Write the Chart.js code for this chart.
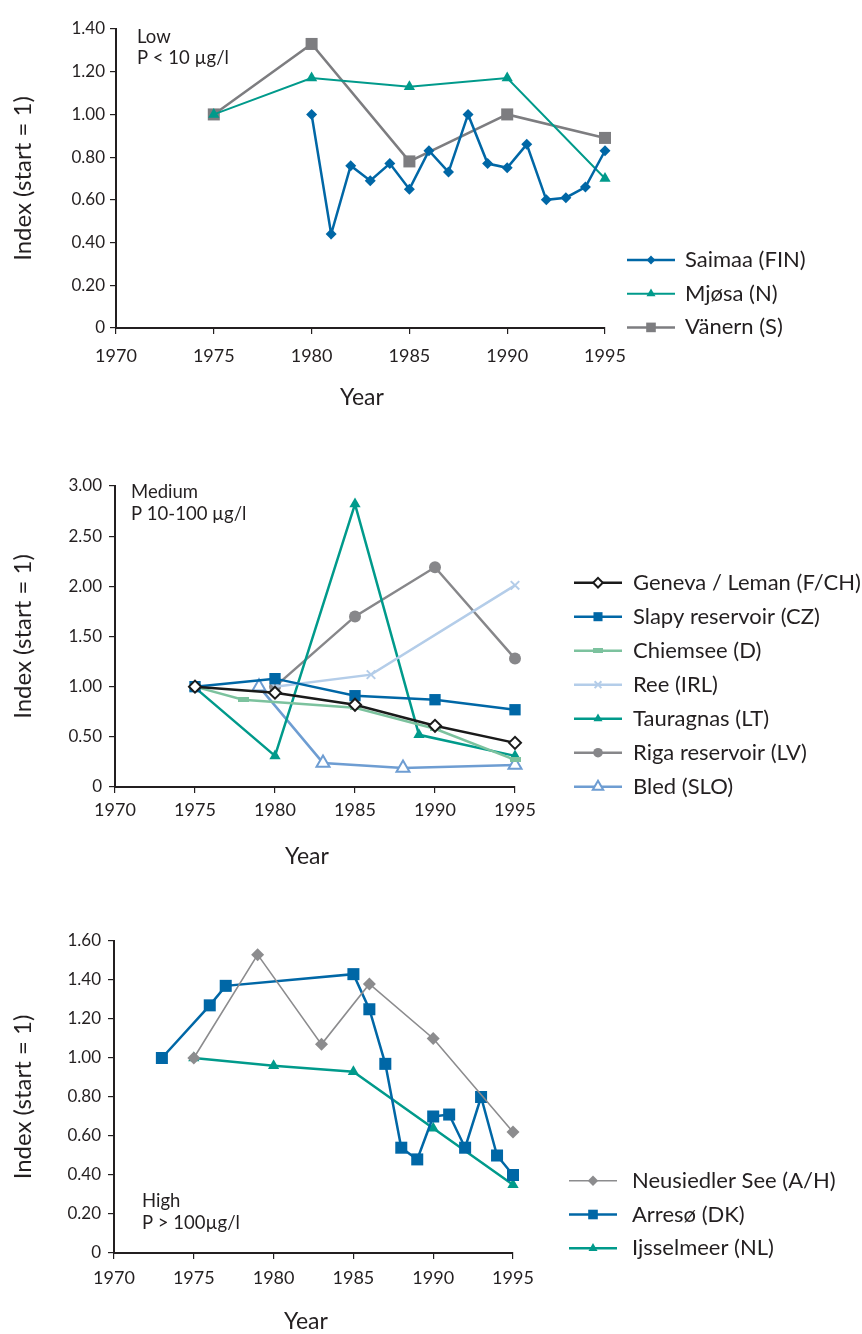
<!DOCTYPE html>
<html><head><meta charset="utf-8">
<script src="https://cdn.jsdelivr.net/npm/chart.js@4"></script>
<style>
body{margin:0;background:#fff;width:862px;height:1334px;position:relative;overflow:hidden}
canvas{position:absolute;left:0}
</style></head><body>
<canvas id="c1" width="862" height="430" style="top:0px"></canvas>
<canvas id="c2" width="862" height="450" style="top:440px"></canvas>
<canvas id="c3" width="862" height="434" style="top:900px"></canvas>
<script>
const FONT = 'Lato, "Open Sans", sans-serif';
const TEXT = '#231f20';

// ---------- Chart 1: Low ----------
const saimaaYears  = [1980,1981,1982,1983,1984,1985,1986,1987,1988,1989,1990,1991,1992,1993,1994,1995];
const saimaaValues = [1.00,0.44,0.76,0.69,0.77,0.65,0.83,0.73,1.00,0.77,0.75,0.86,0.60,0.61,0.66,0.83];
const mjosaYears   = [1975,1980,1985,1990,1995];
const mjosaValues  = [1.00,1.17,1.13,1.17,0.70];
const vanernYears  = [1975,1980,1985,1990,1995];
const vanernValues = [1.00,1.33,0.78,1.00,0.89];

// ---------- Chart 2: Medium ----------
const genevaYears     = [1975,1980,1985,1990,1995];
const genevaValues    = [1.00,0.94,0.82,0.61,0.44];
const slapyYears      = [1975,1980,1985,1990,1995];
const slapyValues     = [1.00,1.08,0.91,0.87,0.77];
const chiemseeYears   = [1975,1978,1985,1990,1995];
const chiemseeValues  = [1.00,0.87,0.79,0.58,0.27];
const reeYears        = [1980,1986,1995];
const reeValues       = [1.00,1.12,2.01];
const tauragnasYears  = [1975,1980,1985,1989,1995];
const tauragnasValues = [0.99,0.31,2.82,0.52,0.31];
const rigaYears       = [1980,1985,1990,1995];
const rigaValues      = [1.00,1.70,2.19,1.28];
const bledYears       = [1979,1983,1988,1995];
const bledValues      = [1.00,0.24,0.19,0.22];

// ---------- Chart 3: High ----------
const neusiedlerYears  = [1975,1979,1983,1986,1990,1995];
const neusiedlerValues = [1.00,1.53,1.07,1.38,1.10,0.62];
const arresoYears      = [1973,1976,1977,1985,1986,1987,1988,1989,1990,1991,1992,1993,1994,1995];
const arresoValues     = [1.00,1.27,1.37,1.43,1.25,0.97,0.54,0.48,0.70,0.71,0.54,0.80,0.50,0.40];
const ijsselYears      = [1975,1980,1985,1990,1995];
const ijsselValues     = [1.00,0.96,0.93,0.64,0.35];

// tick labels
const yearTicks = [1970,1975,1980,1985,1990,1995];
const lowYMax = 1.4, lowYStep = 0.2;
const medYMax = 3.0, medYStep = 0.5;
const highYMax = 1.6, highYStep = 0.2;

const pts = (xs, ys) => xs.map((x, i) => ({x, y: ys[i]}));
const fmtY = v => (Math.abs(v) < 1e-9 ? '0' : v.toFixed(2));

// small horizontal bar marker for Chiemsee
const barMarker = document.createElement('canvas');
barMarker.width = 11; barMarker.height = 5;
(() => { const c = barMarker.getContext('2d'); c.fillStyle = '#7cc29e'; c.fillRect(0,0,11,5); })();
const barMarkerSmall = document.createElement('canvas');
barMarkerSmall.width = 10; barMarkerSmall.height = 5;
(() => { const c = barMarkerSmall.getContext('2d'); c.fillStyle = '#7cc29e'; c.fillRect(0,0,10,5); })();

function ds(label, xs, ys, color, style, r, extra) {
  return Object.assign({
    label, data: pts(xs, ys),
    borderColor: color, backgroundColor: color,
    pointBackgroundColor: color, pointBorderColor: color,
    pointBorderWidth: 0, borderWidth: 2.5,
    pointStyle: style, pointRadius: r, pointHoverRadius: r,
    clip: false, tension: 0
  }, extra || {});
}

const legendPlugin = {
  id: 'lineLegend',
  afterDraw(chart, args, o) {
    if (!o || !o.x0) return;
    const ctx = chart.ctx;
    ctx.save();
    chart.data.datasets.forEach((d, i) => {
      const y = o.y0 + i * o.dy;
      ctx.strokeStyle = d.borderColor;
      ctx.lineWidth = d.borderWidth;
      ctx.beginPath(); ctx.moveTo(o.x0, y); ctx.lineTo(o.x1, y); ctx.stroke();
      ctx.fillStyle = d.pointBackgroundColor;
      ctx.strokeStyle = d.pointBorderColor;
      ctx.lineWidth = d.pointBorderWidth;
      const style = d.legendStyle || d.pointStyle;
      Chart.helpers.drawPoint(ctx, {pointStyle: style, radius: d.pointRadius * 0.8, rotation: 0, borderWidth: d.pointBorderWidth}, (o.x0 + o.x1) / 2, y);
      ctx.fillStyle = TEXT;
      ctx.font = o.size + 'px ' + FONT;
      ctx.textBaseline = 'middle';
      ctx.textAlign = 'left';
      ctx.fillText(d.label, o.tx, y);
    });
    ctx.restore();
  }
};

const notePlugin = {
  id: 'note',
  afterDraw(chart, args, o) {
    if (!o || !o.lines) return;
    const ctx = chart.ctx;
    ctx.save();
    ctx.fillStyle = TEXT;
    ctx.font = o.size + 'px ' + FONT;
    ctx.textBaseline = 'middle';
    ctx.textAlign = 'left';
    o.lines.forEach((t, i) => ctx.fillText(t, o.x, o.y + i * o.dy));
    // x-axis title
    ctx.font = o.xtSize + 'px ' + FONT;
    ctx.textAlign = 'center';
    ctx.fillText(o.xt, o.xtx, o.xty);
    ctx.restore();
  }
};

function makeChart(id, datasets, cfg) {
  return new Chart(document.getElementById(id), {
    type: 'line',
    data: {datasets},
    plugins: [legendPlugin, notePlugin],
    options: {
      responsive: false, animation: false, events: [],
      layout: {padding: {left: 0, top: cfg.top, right: cfg.right, bottom: cfg.bottom}},
      plugins: {
        legend: {display: false}, tooltip: {enabled: false},
        lineLegend: cfg.legend, note: cfg.note
      },
      scales: {
        x: {
          type: 'linear', min: 1970, max: 1995,
          afterFit(s) { s.height = cfg.xh; },
          afterBuildTicks(s) { s.ticks = yearTicks.map(v => ({value: v})); },
          ticks: {callback: v => String(v), font: {family: FONT, size: 18}, color: TEXT, padding: cfg.xpad, maxRotation: 0},
          grid: {drawOnChartArea: false, tickLength: 6, color: TEXT, lineWidth: 1.2},
          border: {color: TEXT, width: 2},
          title: {display: false}
        },
        y: {
          min: 0, max: cfg.ymax,
          afterFit(s) { s.width = cfg.yw; },
          ticks: {stepSize: cfg.ystep, callback: v => fmtY(v), font: {family: FONT, size: 17}, color: TEXT, padding: cfg.ypad},
          grid: {drawOnChartArea: false, tickLength: 6, color: TEXT, lineWidth: 1.2},
          border: {color: TEXT, width: 2},
          title: {display: true, text: 'Index (start = 1)', font: {family: FONT, size: 24}, color: TEXT, padding: {top: 9, bottom: 0}}
        }
      }
    }
  });
}

const BLUE = '#0067a6', TEAL = '#009a8b', GRAY = '#7d7d80';

makeChart('c1', [
  ds('Saimaa (FIN)', saimaaYears, saimaaValues, BLUE, 'rectRot', 5.5),
  ds('Mjøsa (N)', mjosaYears, mjosaValues, TEAL, 'triangle', 6.5, {borderWidth: 2}),
  ds('Vänern (S)', vanernYears, vanernValues, GRAY, 'rect', 8.5)
], {top: 29, right: 257, bottom: 17, xh: 85, yw: 116, ymax: lowYMax, ystep: lowYStep, xpad: 11, ypad: 5,
    legend: {x0: 627, x1: 675, tx: 685, y0: 260, dy: 33.7, size: 22},
    note: {x: 137, y: 37, dy: 21.5, size: 18.5, lines: ['Low', 'P < 10 µg/l'], xt: 'Year', xtSize: 23, xtx: 362, xty: 398}});

makeChart('c2', [
  ds('Geneva / Leman (F/CH)', genevaYears, genevaValues, '#1a1a1a', 'rectRot', 6, {pointBackgroundColor: '#ffffff', pointBorderColor: '#1a1a1a', pointBorderWidth: 2}),
  ds('Slapy reservoir (CZ)', slapyYears, slapyValues, BLUE, 'rect', 8),
  ds('Chiemsee (D)', chiemseeYears, chiemseeValues, '#7cc29e', barMarker, 5, {legendStyle: barMarkerSmall}),
  ds('Ree (IRL)', reeYears, reeValues, '#b4cde9', 'crossRot', 6, {pointBorderWidth: 2}),
  ds('Tauragnas (LT)', tauragnasYears, tauragnasValues, TEAL, 'triangle', 6.5),
  ds('Riga reservoir (LV)', rigaYears, rigaValues, '#87878a', 'circle', 6),
  ds('Bled (SLO)', bledYears, bledValues, '#6e9dd2', 'triangle', 7.5, {pointBackgroundColor: '#ffffff', pointBorderColor: '#6e9dd2', pointBorderWidth: 2})
], {top: 46, right: 347, bottom: 18, xh: 85, yw: 115, ymax: medYMax, ystep: medYStep, xpad: 6, ypad: 7,
    legend: {x0: 574, x1: 622, tx: 633, y0: 142.7, dy: 34, size: 22},
    note: {x: 131, y: 52, dy: 22, size: 18.5, lines: ['Medium', 'P 10-100 µg/l'], xt: 'Year', xtSize: 23, xtx: 307, xty: 417}});

makeChart('c3', [
  ds('Neusiedler See (A/H)', neusiedlerYears, neusiedlerValues, '#8c8c8e', 'rectRot', 6.5, {borderWidth: 1.6}),
  ds('Arresø (DK)', arresoYears, arresoValues, BLUE, 'rect', 8.5),
  ds('Ijsselmeer (NL)', ijsselYears, ijsselValues, TEAL, 'triangle', 6.5)
], {top: 41, right: 349, bottom: 0, xh: 81, yw: 114, ymax: highYMax, ystep: highYStep, xpad: 8, ypad: 7,
    legend: {x0: 569, x1: 617, tx: 632, y0: 280.7, dy: 33.8, size: 22},
    note: {x: 142, y: 301, dy: 22, size: 18.5, lines: ['High', 'P > 100µg/l'], xt: 'Year', xtSize: 23, xtx: 306, xty: 422}});
</script>
</body></html>
